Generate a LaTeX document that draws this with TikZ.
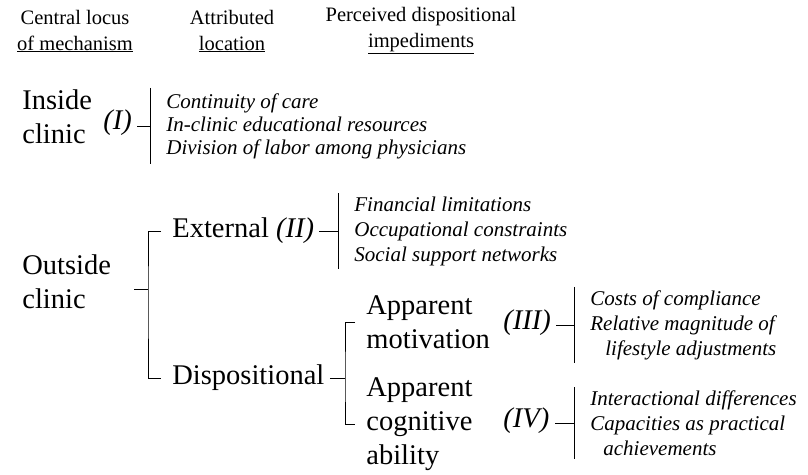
\documentclass[tikz,border=0pt]{standalone}
\usepackage{fontspec}
\setmainfont{Liberation Serif}
\usepackage{tikz}
\newcommand{\hdfont}{\fontsize{20.5}{26}\selectfont}
\newcommand{\lbfont}{\fontsize{28.5}{34}\selectfont}
\newcommand{\impfont}{\fontsize{21}{25}\selectfont\itshape}

\begin{document}
\begin{tikzpicture}
      [x=1pt,y=-1pt,line width=.8pt,
       every node/.style={inner sep=0pt},
       head/.style={align=center,font=\hdfont},
       lab/.style={anchor=west,align=left,inner xsep=5pt,font=\lbfont},
       num/.style={anchor=west,inner xsep=5pt,font=\lbfont\itshape},
       imp/.style={anchor=west,align=left,inner xsep=16pt,inner ysep=3pt,font=\impfont}]
      \useasboundingbox (0,0) rectangle (808,474);

      \node[head] (hA) at (75,31)  {Central locus\\\underline{of mechanism}};
      \node[head] (hB) at (232,31) {Attributed\\\underline{location}};
      \node[head] (hC) at (421,31) {Perceived dispositional\\\underline{impediments}};

      \node[lab] (ins)  at (17,117)  {Inside\\clinic};
      \node[num] (nI)   at (98,123)  {(I)};
      \node[imp,inner ysep=5pt,font=\fontsize{21}{23}\selectfont\itshape] (itI) at (150,126)
        {Continuity of care\\In-clinic educational resources\\Division of labor among physicians};

      \node[lab] (outs) at (17,282)  {Outside\\clinic};
      \node[lab] (ext)  at (167,231) {External \textit{(II)}};
      \node[imp] (itII) at (338,231)
        {Financial limitations\\Occupational constraints\\Social support networks};
      \node[lab] (disp) at (167,378) {Dispositional};

      \node[lab] (appM) at (361,322) {Apparent\\motivation};
      \node[num] (nIII) at (498,323) {(III)};
      \node[imp] (itIII) at (574,325)
        {Costs of compliance\\Relative magnitude of\\\hspace*{15pt}lifestyle adjustments};

      \node[lab] (appC) at (361,424) {Apparent\\cognitive\\ability};
      \node[num] (nIV)  at (498,421) {(IV)};
      \node[imp] (itIV) at (574,423)
        {Interactional differences\\Capacities as practical\\\hspace*{13pt}achievements};

      \coordinate (trk) at (148,300);
      \coordinate (dk)  at (345,380);

      \foreach \n in {itI,itII,itIII,itIV}
        \draw (\n.north west) -- (\n.south west);
      \foreach \from/\to in {nI/itI,ext/itII,nIII/itIII,nIV/itIV}
        \draw (\to.west) -- (\to.west -| \from.east);

      \draw[shorten <=6pt,shorten >=6pt] (ext.west) -| (trk) |- (disp.west);
      \draw[shorten <=6pt,shorten >=6pt] (appM.west) -| (dk) |- (appC.west);
      \draw[shorten <=18pt] ([yshift=-7pt]outs.east) -- ([yshift=-7pt]outs.east -| trk);
      \draw (disp.east) -- (disp.east -| dk);

    \end{tikzpicture}
\end{document}
